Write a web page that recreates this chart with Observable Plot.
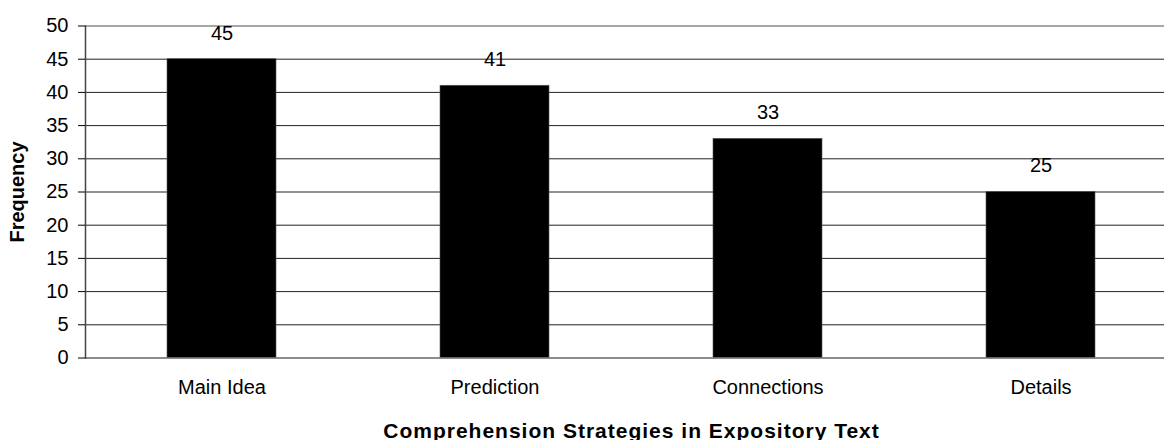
<!DOCTYPE html>
<html>
<head>
<meta charset="utf-8">
<script src="https://cdn.jsdelivr.net/npm/d3@7"></script>
<script src="https://cdn.jsdelivr.net/npm/@observablehq/plot@0.6"></script>
<style>
  html, body { margin: 0; padding: 0; background: #fff; overflow: hidden; }
  #chart svg { overflow: visible; }
</style>
</head>
<body>
<div id="chart"></div>
<script>
// Frequency of each comprehension strategy used with expository text
const strategies = ["Main Idea", "Prediction", "Connections", "Details"];
const frequencies = [45, 41, 33, 25];
const yTicks = [0, 5, 10, 15, 20, 25, 30, 35, 40, 45, 50];
const xTitle = "Comprehension Strategies in Expository Text";

const rows = strategies.map((s, i) => ({strategy: s, frequency: frequencies[i]}));

const chart = Plot.plot({
  width: 1164,
  height: 440,
  marginLeft: 85,
  marginRight: -13,
  marginTop: 25.5,
  marginBottom: 82.5,
  style: {fontFamily: "Arial, 'Liberation Sans', sans-serif", fontSize: "20px", color: "#000", background: "#fff"},
  x: {domain: strategies, paddingInner: 0.6, paddingOuter: 0.3, align: 0.5},
  y: {domain: [0, 50], ticks: yTicks},
  marks: [
    Plot.gridY(yTicks.filter(d => d > 0 && d < 50), {stroke: "#222", strokeOpacity: 1}),
    Plot.ruleY([50], {stroke: "#8a8a8a", strokeWidth: 1.5}),
    Plot.barY(rows, {x: "strategy", y: "frequency", fill: "#000", stroke: "#555", strokeWidth: 0.6}),
    Plot.ruleY([0], {stroke: "#666", strokeWidth: 1.5}),
    Plot.frame({anchor: "left", stroke: "#444", strokeWidth: 1.5}),
    Plot.text(rows, {x: "strategy", y: "frequency", text: d => String(d.frequency), dy: -26, lineAnchor: "middle", fill: "#000", fontSize: 20}),
    Plot.axisY({ticks: yTicks, tickSize: 7, tickPadding: 10, fontSize: 20, label: "Frequency", labelAnchor: "center", labelArrow: "none", labelOffset: 76}),
    Plot.axisX({tickSize: 0, tickPadding: 22, fontSize: 20, label: null}),
    Plot.text([xTitle], {
      frameAnchor: "bottom", dy: 79.5, lineAnchor: "bottom", fontWeight: "bold", fontSize: 21, fill: "#000",
      className: "x-title"
    })
  ]
});

// bold axis title for the y axis
chart.querySelectorAll("g[aria-label='y-axis label'] text").forEach(t => t.setAttribute("font-weight", "bold"));
// slightly tracked-out x axis title
chart.querySelectorAll("g[aria-label='text'] text").forEach(t => {
  if (t.textContent === xTitle) t.setAttribute("letter-spacing", "1px");
});

document.getElementById("chart").appendChild(chart);
</script>
</body>
</html>
